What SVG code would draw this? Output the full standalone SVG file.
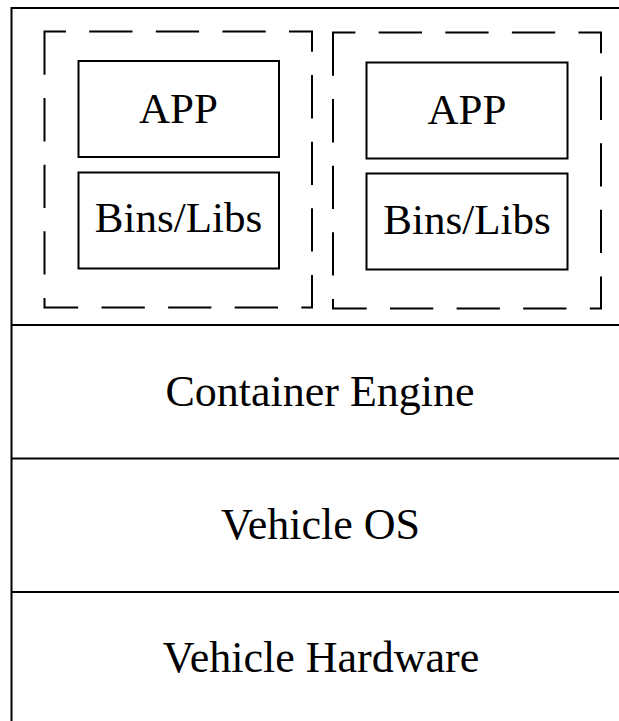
<svg xmlns="http://www.w3.org/2000/svg" width="619" height="721" viewBox="0 0 619 721">
<style>
.ln{stroke:#000;stroke-width:2;fill:none}
.box{stroke:#000;stroke-width:2;fill:#fff}
.dash{stroke:#000;stroke-width:2;fill:none;stroke-dasharray:43.3 23.3}
.t{font-family:"Liberation Serif","Times New Roman",serif;fill:#000;text-anchor:middle}
.s{font-size:43px}
.l{font-size:44px}
</style>
<rect width="619" height="721" fill="#fff"/>
<g id="frame">
<line class="ln" x1="11.5" y1="8" x2="619" y2="8"/>
<line class="ln" x1="11.5" y1="7" x2="11.5" y2="721"/>
<line class="ln" x1="11.5" y1="325" x2="619" y2="325"/>
<line class="ln" x1="11.5" y1="458.5" x2="619" y2="458.5"/>
<line class="ln" x1="11.5" y1="592" x2="619" y2="592"/>
</g>
<g id="connectors"></g>
<g id="container1">
<path class="dash" d="M44.5,31.5 V307.5 H312 V31.5 Z"/>
</g>
<g id="app1">
<rect class="box" x="78.5" y="61" width="200.5" height="96"/>
<text class="t s" x="178.5" y="122.7">APP</text>
</g>
<g id="libs1">
<rect class="box" x="78.5" y="172.5" width="200.5" height="96"/>
<text class="t s" x="178.5" y="231.7">Bins/Libs</text>
</g>
<g id="container2">
<path class="dash" d="M333,32.5 V308.5 H601 V32.5 Z"/>
</g>
<g id="app2">
<rect class="box" x="366.5" y="62.5" width="201" height="96"/>
<text class="t s" x="467" y="124">APP</text>
</g>
<g id="libs2">
<rect class="box" x="366.5" y="173.5" width="201" height="96"/>
<text class="t s" x="467" y="233.5">Bins/Libs</text>
</g>
<g id="engine">
<text class="t l" x="320" y="405.5">Container Engine</text>
</g>
<g id="os">
<text class="t l" x="320.5" y="539">Vehicle OS</text>
</g>
<g id="hardware">
<text class="t l" x="321" y="671.7">Vehicle Hardware</text>
</g>
</svg>
